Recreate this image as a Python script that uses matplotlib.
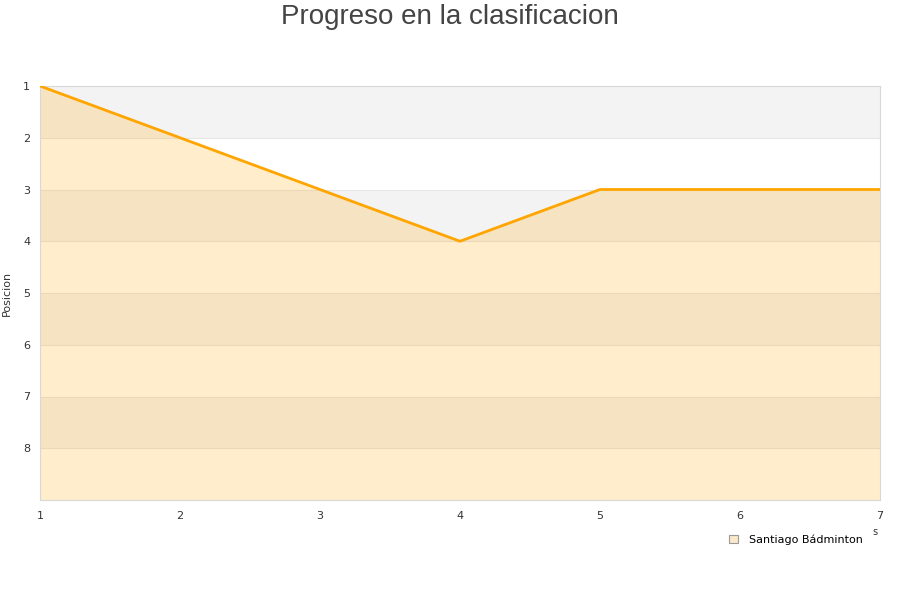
import matplotlib
matplotlib.use('Agg')
import matplotlib.pyplot as plt
from matplotlib.patches import Patch

# Datos
jornadas = [1, 2, 3, 4, 5, 6, 7]
posiciones = [1, 2, 3, 4, 3, 3, 3]
equipo = 'Santiago Bádminton'
ticks_y = [1, 2, 3, 4, 5, 6, 7, 8]

naranja = '#ffa500'

fig = plt.figure(figsize=(9, 6), dpi=100)
ax = fig.add_axes([40 / 900, 100 / 600, 840 / 900, 414 / 600])

# Bandas de fondo alternas
for y0 in range(1, 9):
    if y0 % 2 == 1:
        ax.axhspan(y0, y0 + 1, color='#f3f3f3', zorder=0, lw=0)

# Lineas horizontales
for y0 in range(2, 9):
    ax.axhline(y0, color='#e6e6e6', lw=0.8, zorder=1)

ax.fill_between(jornadas, posiciones, 9, color=naranja, alpha=0.2, lw=0, zorder=2)
ax.plot(jornadas, posiciones, color=naranja, lw=2, zorder=3)

ax.set_xlim(1, 7)
ax.set_ylim(9, 1)
ax.set_yticks(ticks_y)
ax.set_xticks(jornadas)
ax.tick_params(axis='both', length=0, labelsize=8, colors='#333333', pad=8)
ax.tick_params(axis='y', pad=7)
for s in ax.spines.values():
    s.set_color('#d8d8d8')
    s.set_linewidth(0.8)

ax.set_ylabel('Posicion', fontsize=8, color='#333333', labelpad=8)
fig.text(0.5, 0.972, 'Progreso en la clasificacion', ha='center', va='center',
         fontsize=20, color='#444444', family='Liberation Sans')
fig.text(0.972, 0.108, 's', fontsize=7, color='#333333', ha='center')

handle = Patch(facecolor='#fbe8c8', edgecolor='#999999', lw=0.8)
fig.legend([handle], [equipo], loc='upper right', bbox_to_anchor=(0.97, 0.126),
           frameon=False, fontsize=8, handlelength=0.8, handleheight=0.8,
           handletextpad=1.0)

plt.savefig('out.png')
plt.close()
